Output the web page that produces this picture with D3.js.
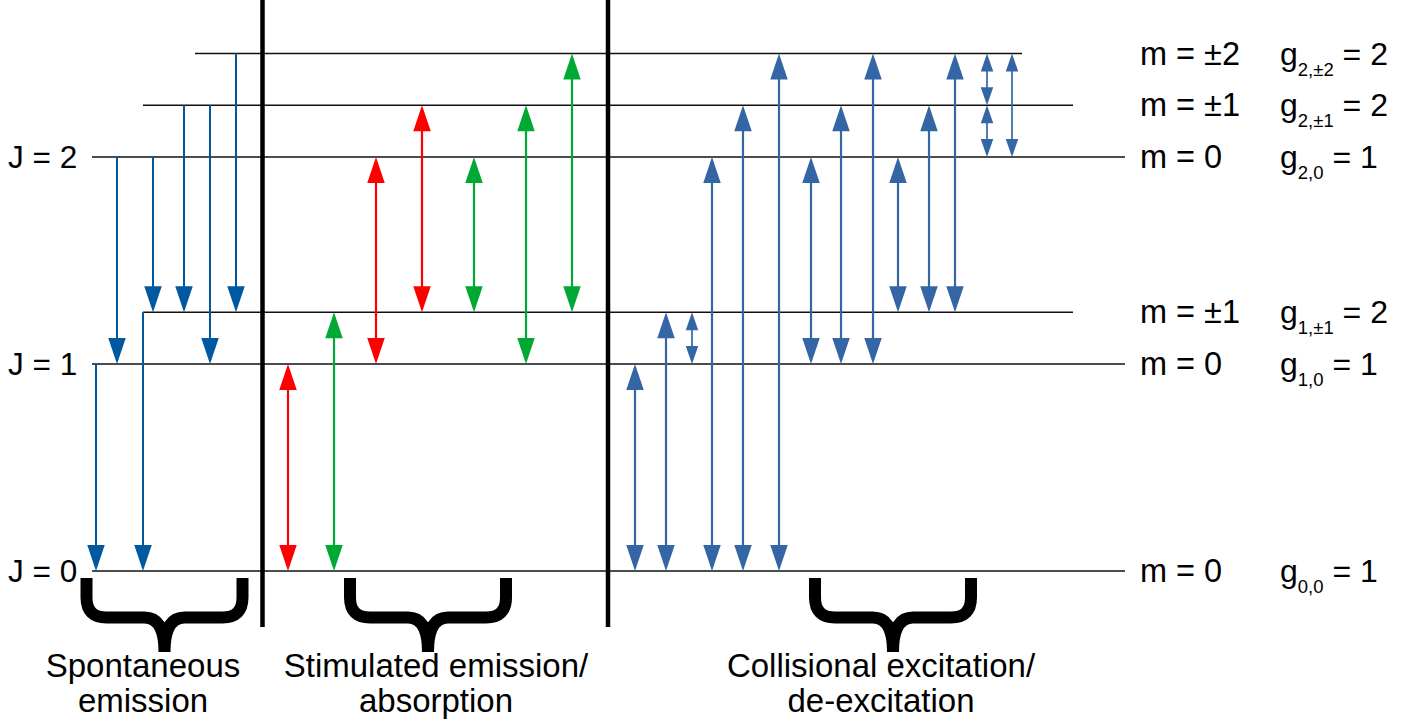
<!DOCTYPE html>
<html>
<head>
<meta charset="utf-8">
<script src="https://cdn.jsdelivr.net/npm/d3@7"></script>
<style>
  html, body { margin: 0; padding: 0; background: #fff; }
  svg { display: block; font-family: "Liberation Sans", Arial, sans-serif; }
</style>
</head>
<body>
<svg id="chart" width="1424" height="724"></svg>
<script>
// ---- Data ----
// Energy levels (relative units) : index 0..5
const levelIds     = ["J0m0", "J1m0", "J1m1", "J2m0", "J2m1", "J2m2"];
const levelEnergy  = [0, 2, 2.5, 4, 4.5, 5];
const levelStart   = [92, 92, 143, 92, 143, 195];
const levelEnd     = [1125, 1125, 1073, 1125, 1073, 1022];
const mLabels      = ["m = 0", "m = 0", "m = ±1", "m = 0", "m = ±1", "m = ±2"];
const gSubscripts  = ["0,0", "1,0", "1,±1", "2,0", "2,±1", "2,±2"];
const gValues      = [1, 1, 2, 1, 2, 2];
const jLabels      = ["J = 0", "J = 1", "J = 2"];
const jLevels      = [0, 1, 3];

// Transitions: [x slot, upper level, lower level]
const spontaneous = [[96,1,0],[117,3,1],[143,2,0],[153,3,2],[184,4,2],[210,4,1],[236,5,2]];
const stimulated  = [[288,1,0,"r"],[334,2,0,"g"],[376,3,1,"r"],[422,4,2,"r"],[474,3,2,"g"],[526,4,1,"g"],[572,5,2,"g"]];
const collisional = [[635,1,0,0],[666,2,0,0],[692,2,1,1],[712,3,0,0],[743,4,0,0],[779,5,0,0],
                     [811,3,1,0],[841,4,1,0],[873,5,1,0],[898,3,2,0],[929,4,2,0],[955,5,2,0],
                     [987,5,4,1],[987,4,3,1],[1012,5,3,1]];

const separators = [262.5, 608];
const braceCenters = [164.5, 428, 893];
const groupTitles = [["Spontaneous", "emission"], ["Stimulated emission/", "absorption"], ["Collisional excitation/", "de-excitation"]];
const titleCenters = [143, 436, 881];

// ---- Scales ----
const y = d3.scaleLinear().domain([0, 5]).range([571, 53.5]);
const x = d3.scaleLinear().domain([0, 1424]).range([0, 1424]);

const colors = { spont: "#0058a0", r: "#ff0000", g: "#00a933", coll: "#3465a4" };

const svg = d3.select("#chart");

// Level lines
svg.append("g").selectAll("line").data(levelEnergy).join("line")
  .attr("x1", (d, i) => x(levelStart[i])).attr("x2", (d, i) => x(levelEnd[i]))
  .attr("y1", d => y(d)).attr("y2", d => y(d))
  .attr("stroke", "#111").attr("stroke-width", 1.6);

// Separators
svg.append("g").selectAll("line").data(separators).join("line")
  .attr("x1", d => x(d)).attr("x2", d => x(d))
  .attr("y1", 0).attr("y2", 627)
  .attr("stroke", "#000").attr("stroke-width", 4.5);

// Arrow helpers
function head(g, cx, tipY, dir, w, h, color) {
  g.append("path")
    .attr("d", `M${cx},${tipY} L${cx - w / 2},${tipY - dir * h} L${cx + w / 2},${tipY - dir * h} Z`)
    .attr("fill", color);
}
function arrow(g, xv, upper, lower, color, both, small, sw) {
  const cx = x(xv);
  const yT = y(levelEnergy[upper]);
  const yB = y(levelEnergy[lower]);
  const w = small ? 12.5 : 17.5, h = small ? 18 : 26;
  g.append("line")
    .attr("x1", cx).attr("x2", cx)
    .attr("y1", both ? yT + h - 1 : yT).attr("y2", yB - h + 1)
    .attr("stroke", color).attr("stroke-width", sw);
  head(g, cx, yB, 1, w, h, color);
  if (both) head(g, cx, yT, -1, w, h, color);
}

const gA = svg.append("g");
spontaneous.forEach(d => arrow(gA, d[0], d[1], d[2], colors.spont, false, false, 2));
stimulated.forEach(d => arrow(gA, d[0], d[1], d[2], colors[d[3]], true, false, 2.2));
collisional.forEach(d => arrow(gA, d[0], d[1], d[2], colors.coll, true, d[3] === 1, d[3] === 1 ? 1.7 : 2.2));

// J labels
svg.append("g").selectAll("text").data(jLabels).join("text")
  .attr("x", 8).attr("y", (d, i) => y(levelEnergy[jLevels[i]]) + 11)
  .attr("font-size", 31.5).attr("fill", "#000").text(d => d);

// m labels
svg.append("g").selectAll("text").data(mLabels).join("text")
  .attr("x", 1140).attr("y", (d, i) => y(levelEnergy[i]) + 11)
  .attr("font-size", 32.5).attr("fill", "#000").text(d => d);

// g labels
const gl = svg.append("g").selectAll("text").data(gSubscripts).join("text")
  .attr("x", 1280).attr("y", (d, i) => y(levelEnergy[i]) + 11)
  .attr("font-size", 32).attr("fill", "#000");
gl.append("tspan").text("g");
gl.append("tspan").attr("dy", 11).attr("font-size", 18.5).text(d => d);
gl.append("tspan").attr("dy", -11).text((d, i) => " = " + gValues[i]);

// Braces
svg.append("g").selectAll("path").data(braceCenters).join("path")
  .attr("d", c => {
    const l = c - 78, r = c + 78, top = 578, mid = 617.5, tip = 652;
    return `M${l},${top} V${mid - 20} Q${l},${mid} ${l + 20},${mid} H${c - 20} Q${c},${mid} ${c},${tip}` +
           ` M${r},${top} V${mid - 20} Q${r},${mid} ${r - 20},${mid} H${c + 20} Q${c},${mid} ${c},${tip}`;
  })
  .attr("fill", "none").attr("stroke", "#000").attr("stroke-width", 12);

// Group titles
const gt = svg.append("g").selectAll("text").data(groupTitles).join("text")
  .attr("text-anchor", "middle").attr("font-size", 33).attr("fill", "#000");
gt.append("tspan").attr("x", (d, i) => titleCenters[i]).attr("y", 677).text(d => d[0]);
gt.append("tspan").attr("x", (d, i) => titleCenters[i]).attr("y", 712).text(d => d[1]);
</script>
</body>
</html>
